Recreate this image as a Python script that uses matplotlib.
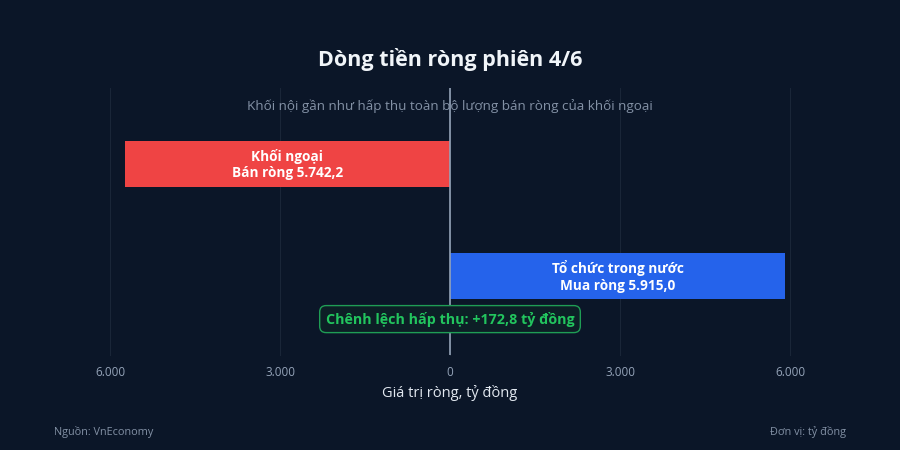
import matplotlib
matplotlib.use("Agg")
import matplotlib.pyplot as plt

plt.rcParams['font.family'] = ['Open Sans', 'Noto Sans', 'DejaVu Sans']

# data
groups = ["Khối ngoại", "Tổ chức trong nước"]
actions = ["Bán ròng", "Mua ròng"]
values = [-5742.2, 5915.0]
colors = ["#ef4444", "#2563eb"]
gap = 172.8
ticks = [-6000, -3000, 0, 3000, 6000]
tick_labels = ["6.000", "3.000", "0", "3.000", "6.000"]

bg = "#0b1628"

def vn(x):
    s = "{:,.1f}".format(abs(x))
    return s.replace(",", "X").replace(".", ",").replace("X", ".")

fig = plt.figure(figsize=(9, 4.5), dpi=100, facecolor=bg)
ax = fig.add_axes([110/900, 1-355/450, 680/900, 267/450])
ax.set_facecolor(bg)

ypos = list(range(len(values)))
ax.barh(ypos, values, height=0.41, color=colors, zorder=2)

for y, v, g, a in zip(ypos, values, groups, actions):
    ax.text(v/2, y, g + "\n" + a + " " + vn(v), ha="center", va="center",
            color="white", fontsize=9.8, fontweight="bold", linespacing=1.2, zorder=3)

ax.axvline(0, color="#94a3b8", lw=1.2, zorder=4)

ax.set_xlim(-6000, 6000)
ax.set_ylim(1.70, -0.68)
ax.set_xticks(ticks)
ax.set_xticklabels(tick_labels)
ax.set_yticks([])
ax.tick_params(axis="x", colors="#94a3b8", labelsize=8.5, length=0, pad=8)
ax.grid(axis="x", color="#1a2638", lw=0.8, zorder=0)
for gl in ax.get_xgridlines():
    gl.set_clip_on(False)
for s in ax.spines.values():
    s.set_visible(False)

ax.set_xlabel("Giá trị ròng, tỷ đồng", color="#e2e8f0", fontsize=10.5, labelpad=4)

ax.text(0, 1.38, "Chênh lệch hấp thụ: +" + vn(gap) + " tỷ đồng", ha="center", va="center",
        color="#22c55e", fontsize=10.3, fontweight="bold", zorder=5,
        bbox=dict(boxstyle="round,pad=0.42,rounding_size=0.45", fc="#0d1f26", ec="#1f9d55", lw=1.0))

fig.text(0.5, 1-59/450, "Dòng tiền ròng phiên 4/6", ha="center", va="center",
         color="#f1f5f9", fontsize=15.5, fontweight="bold")
fig.text(0.5, 1-106/450, "Khối nội gần như hấp thụ toàn bộ lượng bán ròng của khối ngoại",
         ha="center", va="center", color="#8391a5", fontsize=9.7, zorder=1)
fig.text(54/900, 1-432/450, "Nguồn: VnEconomy", ha="left", va="center", color="#8391a5", fontsize=7.8)
fig.text(846/900, 1-432/450, "Đơn vị: tỷ đồng", ha="right", va="center", color="#8391a5", fontsize=7.8)

fig.savefig("out.png", dpi=100, facecolor=bg)
